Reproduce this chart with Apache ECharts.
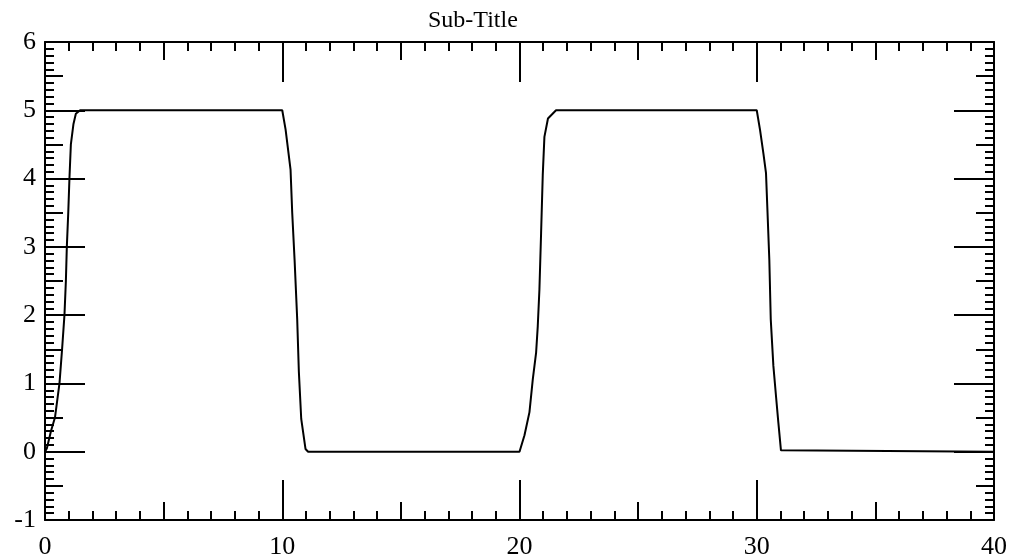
<!DOCTYPE html>
<html>
<head>
<meta charset="utf-8">
<script src="https://cdn.jsdelivr.net/npm/echarts@6/dist/echarts.min.js"></script>
<style>
html,body{margin:0;padding:0;background:#fff;}
#chart{width:1010px;height:560px;}
</style>
</head>
<body>
<div id="chart"></div>
<script>
// ---- data ----
var titleText = "Sub-Title";
var xValues = [0, 0.08, 0.25, 0.42, 0.61, 0.72, 0.82, 0.88, 0.92, 0.98, 1.03, 1.09, 1.2, 1.3, 1.48,
  10, 10.14, 10.35, 10.42, 10.52, 10.63, 10.7, 10.8, 10.98, 11.09,
  20, 20.21, 20.42, 20.56, 20.7, 20.77, 20.84, 20.91, 20.98, 21.05, 21.2, 21.54,
  30, 30.14, 30.28, 30.39, 30.45, 30.53, 30.59, 30.7, 30.81, 30.91, 31.02, 31.1,
  40];
var yValues = [0, 0.05, 0.3, 0.5, 1.0, 1.5, 2.0, 2.5, 3.0, 3.5, 4.0, 4.5, 4.8, 4.95, 5.0,
  5, 4.72, 4.13, 3.5, 2.81, 1.94, 1.17, 0.48, 0.04, 0,
  0, 0.24, 0.58, 1.06, 1.45, 1.84, 2.38, 3.2, 4.05, 4.61, 4.88, 5.0,
  5, 4.71, 4.37, 4.08, 3.54, 2.81, 1.94, 1.26, 0.82, 0.43, 0.02, 0,
  0];
var xTickLabels = [0, 10, 20, 30, 40];
var yTickLabels = [-1, 0, 1, 2, 3, 4, 5, 6];

// ---- chart ----
var seriesData = xValues.map(function (x, i) { return [x, yValues[i]]; });
var xMin = xTickLabels[0], xMax = xTickLabels[xTickLabels.length - 1];
var yMin = yTickLabels[0], yMax = yTickLabels[yTickLabels.length - 1];
var FONT = "'Liberation Serif','Times New Roman',serif";
var BLACK = '#000';

function xAxisDef(pos, interval, tickLen, primary, showLabel) {
  return {
    type: 'value', position: pos, min: xMin, max: xMax, interval: interval,
    axisLine: { show: primary, onZero: false, lineStyle: { color: BLACK, width: 2 } },
    axisTick: { show: true, inside: true, length: tickLen, lineStyle: { color: BLACK, width: 2 } },
    minorTick: { show: primary, splitNumber: 10, length: 9, lineStyle: { color: BLACK, width: 2 } },
    axisLabel: { show: showLabel, color: BLACK, fontFamily: FONT, fontSize: 26, margin: 14 },
    splitLine: { show: false }
  };
}
function yAxisDef(pos, interval, tickLen, primary, showLabel) {
  return {
    type: 'value', position: pos, min: yMin, max: yMax, interval: interval,
    axisLine: { show: primary, onZero: false, lineStyle: { color: BLACK, width: 2 } },
    axisTick: { show: true, inside: true, length: tickLen, lineStyle: { color: BLACK, width: 2 } },
    minorTick: { show: primary, splitNumber: 10, length: 9, lineStyle: { color: BLACK, width: 2 } },
    axisLabel: { show: showLabel, color: BLACK, fontFamily: FONT, fontSize: 26, margin: 9 },
    splitLine: { show: false }
  };
}

var chart = echarts.init(document.getElementById('chart'), null, { renderer: 'canvas' });
chart.setOption({
  animation: false,
  backgroundColor: '#fff',
  title: {
    text: titleText, left: 428, top: 9, padding: 0,
    textStyle: { fontFamily: FONT, fontSize: 24, fontWeight: 'normal', color: BLACK }
  },
  grid: { left: 45, right: 12, top: 42, bottom: 38, containLabel: false },
  xAxis: [
    xAxisDef('bottom', 10, 40, true, true),
    xAxisDef('bottom', 5, 18, false, false),
    xAxisDef('top', 10, 40, true, false),
    xAxisDef('top', 5, 18, false, false)
  ],
  yAxis: [
    yAxisDef('left', 1, 40, true, true),
    yAxisDef('left', 0.5, 18, false, false),
    yAxisDef('right', 1, 40, true, false),
    yAxisDef('right', 0.5, 18, false, false)
  ],
  series: [{
    type: 'line', xAxisIndex: 0, yAxisIndex: 0,
    data: seriesData, showSymbol: false, symbol: 'none',
    lineStyle: { color: BLACK, width: 2 }, clip: true
  }]
});
</script>
</body>
</html>
